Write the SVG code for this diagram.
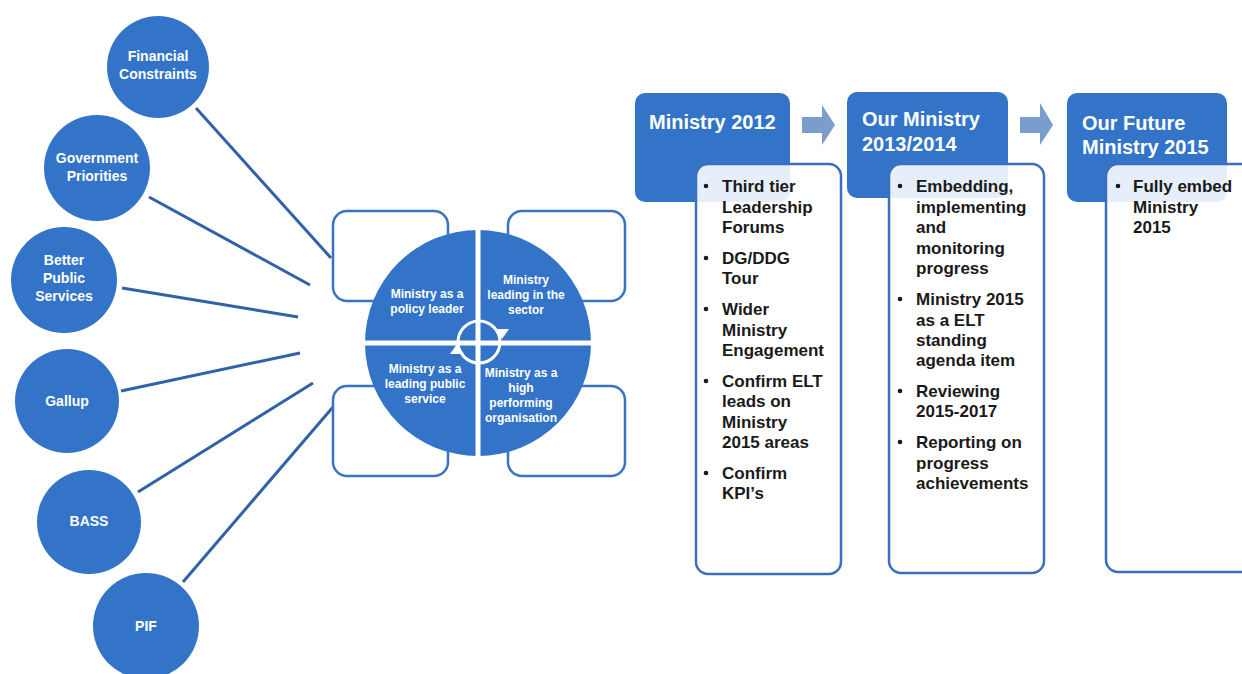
<svg xmlns="http://www.w3.org/2000/svg" width="1242" height="674" viewBox="0 0 1242 674">
<style>
.bub{fill:#3374c9;}
.bt{font-family:"Liberation Sans",Arial,sans-serif;font-weight:bold;font-size:14px;fill:#ffffff;text-anchor:middle;}
.qt{font-family:"Liberation Sans",Arial,sans-serif;font-weight:bold;font-size:12px;fill:#ffffff;text-anchor:middle;}
.conn{stroke:#2f62a8;stroke-width:3;fill:none;}
.frame{fill:#ffffff;stroke:#3a72c4;stroke-width:2.5;}
.hdr{fill:#3374c9;}
.ht{font-family:"Liberation Sans",Arial,sans-serif;font-weight:bold;font-size:20px;fill:#ffffff;}
.det{fill:#ffffff;fill-opacity:0.88;stroke:#3a6fbd;stroke-width:2.5;}
.dt{font-family:"Liberation Sans",Arial,sans-serif;font-weight:bold;font-size:17px;fill:#1a1a1a;}
.arr{fill:#7b9dcc;}
</style>
<rect width="1242" height="674" fill="#ffffff"/>
<g id="connectors">
<line class="conn" x1="196" y1="108" x2="331" y2="258"/>
<line class="conn" x1="149" y1="197" x2="310" y2="285"/>
<line class="conn" x1="122" y1="288" x2="298" y2="317"/>
<line class="conn" x1="121" y1="391" x2="300" y2="353"/>
<line class="conn" x1="138" y1="492" x2="313" y2="383"/>
<line class="conn" x1="183" y1="582" x2="333" y2="407"/>
</g>
<g id="financial"><circle class="bub" cx="158" cy="67" r="51"/><text class="bt" x="158" y="61">Financial</text><text class="bt" x="158" y="79">Constraints</text></g>
<g id="government"><circle class="bub" cx="97" cy="168" r="53"/><text class="bt" x="97" y="163">Government</text><text class="bt" x="97" y="181">Priorities</text></g>
<g id="better"><circle class="bub" cx="64" cy="280" r="53"/><text class="bt" x="64" y="265">Better</text><text class="bt" x="64" y="283">Public</text><text class="bt" x="64" y="301">Services</text></g>
<g id="gallup"><circle class="bub" cx="67" cy="401" r="52"/><text class="bt" x="67" y="406">Gallup</text></g>
<g id="bass"><circle class="bub" cx="89" cy="522" r="52"/><text class="bt" x="89" y="526">BASS</text></g>
<g id="pif"><circle class="bub" cx="146" cy="626" r="53"/><text class="bt" x="146" y="631">PIF</text></g>
<g id="cycle">
<rect class="frame" x="333" y="211" width="115" height="90" rx="14"/>
<rect class="frame" x="508" y="211" width="117" height="90" rx="14"/>
<rect class="frame" x="333" y="386" width="115" height="90" rx="14"/>
<rect class="frame" x="508" y="386" width="117" height="90" rx="14"/>
<circle class="bub" cx="478" cy="343" r="113"/>
<line x1="478" y1="226" x2="478" y2="460" stroke="#ffffff" stroke-width="5"/>
<line x1="360" y1="343" x2="596" y2="343" stroke="#ffffff" stroke-width="5"/>
<circle cx="479" cy="342" r="21" fill="none" stroke="#ffffff" stroke-width="3"/>
<polygon points="495,329 509,329 502,339" fill="#ffffff"/>
<polygon points="450,354 464,354 457,344" fill="#ffffff"/>
<text class="qt" x="427" y="298">Ministry as a</text><text class="qt" x="427" y="313">policy leader</text>
<text class="qt" x="526" y="284">Ministry</text><text class="qt" x="526" y="299">leading in the</text><text class="qt" x="526" y="314">sector</text>
<text class="qt" x="425" y="373">Ministry as a</text><text class="qt" x="425" y="388">leading public</text><text class="qt" x="425" y="403">service</text>
<text class="qt" x="521" y="377">Ministry as a</text><text class="qt" x="521" y="392">high</text><text class="qt" x="521" y="407">performing</text><text class="qt" x="521" y="422">organisation</text>
</g>
<g id="m2012">
<rect class="hdr" x="635" y="93" width="155" height="109" rx="10"/>
<text class="ht" x="649" y="129">Ministry 2012</text>
<rect class="det" x="696" y="164" width="145" height="410" rx="12"/>
<g class="dt">
<circle cx="706" cy="186" r="2.3"/><text x="722" y="192">Third tier</text><text x="722" y="213">Leadership</text><text x="722" y="233">Forums</text>
<circle cx="706" cy="258" r="2.3"/><text x="722" y="264">DG/DDG</text><text x="722" y="284">Tour</text>
<circle cx="706" cy="309" r="2.3"/><text x="722" y="315">Wider</text><text x="722" y="336">Ministry</text><text x="722" y="356">Engagement</text>
<circle cx="706" cy="381" r="2.3"/><text x="722" y="387">Confirm ELT</text><text x="722" y="407">leads on</text><text x="722" y="428">Ministry</text><text x="722" y="448">2015 areas</text>
<circle cx="706" cy="473" r="2.3"/><text x="722" y="479">Confirm</text><text x="722" y="499">KPI’s</text>
</g>
</g>
<g id="arrow1"><polygon class="arr" points="802,117 822,117 822,105 835,125 822,145 822,133 802,133"/></g>
<g id="m2013">
<rect class="hdr" x="847" y="92" width="161" height="106" rx="10"/>
<text class="ht" x="862" y="126">Our Ministry</text>
<text class="ht" x="862" y="151">2013/2014</text>
<rect class="det" x="889" y="164" width="155" height="409" rx="12"/>
<g class="dt">
<circle cx="900" cy="186" r="2.3"/><text x="916" y="192">Embedding,</text><text x="916" y="213">implementing</text><text x="916" y="233">and</text><text x="916" y="254">monitoring</text><text x="916" y="274">progress</text>
<circle cx="900" cy="299" r="2.3"/><text x="916" y="305">Ministry 2015</text><text x="916" y="326">as a ELT</text><text x="916" y="346">standing</text><text x="916" y="366">agenda item</text>
<circle cx="900" cy="391" r="2.3"/><text x="916" y="397">Reviewing</text><text x="916" y="417">2015-2017</text>
<circle cx="900" cy="442" r="2.3"/><text x="916" y="448">Reporting on</text><text x="916" y="469">progress</text><text x="916" y="489">achievements</text>
</g>
</g>
<g id="arrow2"><polygon class="arr" points="1020,117 1040,117 1040,103 1053,125 1040,145 1040,133 1020,133"/></g>
<g id="m2015">
<rect class="hdr" x="1067" y="93" width="160" height="109" rx="10"/>
<text class="ht" x="1082" y="130">Our Future</text>
<text class="ht" x="1082" y="154">Ministry 2015</text>
<rect class="det" x="1106" y="164" width="150" height="408" rx="12"/>
<g class="dt">
<circle cx="1118" cy="186" r="2.3"/><text x="1133" y="192">Fully embed</text><text x="1133" y="213">Ministry</text><text x="1133" y="233">2015</text>
</g>
</g>
</svg>
